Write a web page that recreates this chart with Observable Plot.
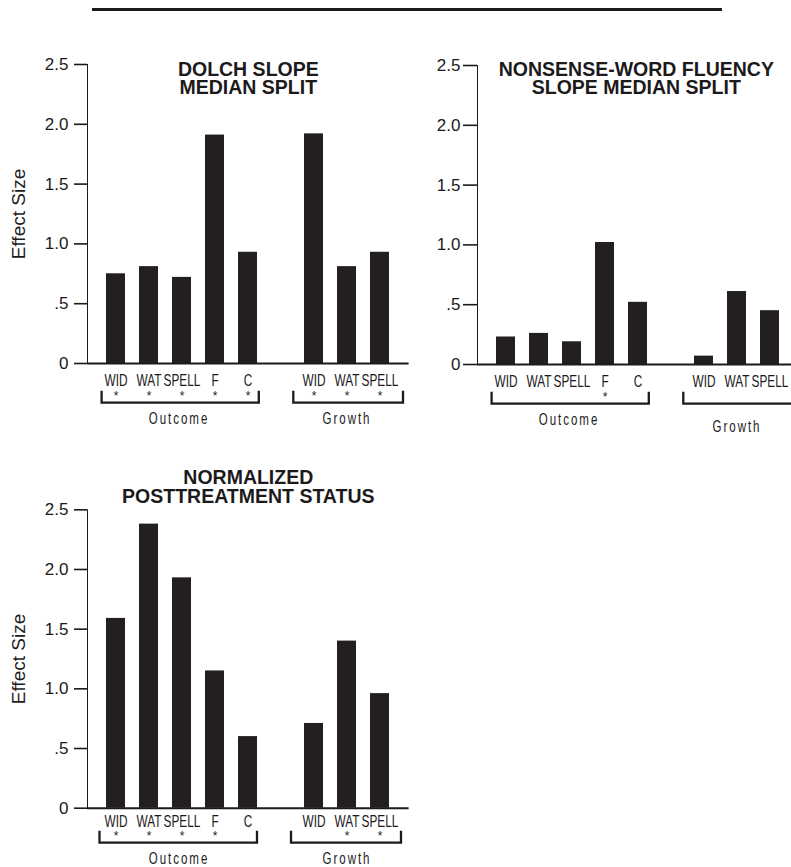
<!DOCTYPE html>
<html>
<head>
<meta charset="utf-8">
<script src="https://cdn.jsdelivr.net/npm/d3@7"></script>
<script src="https://cdn.jsdelivr.net/npm/@observablehq/plot@0.6"></script>
<style>
html,body{margin:0;padding:0;background:#fff;overflow:hidden;}
#page{position:relative;width:791px;height:867px;overflow:hidden;background:#fff;}
.panel{position:absolute;width:410px;}
.panel svg{max-width:none !important;}
#toprule{position:absolute;left:92px;top:8px;width:630px;height:3px;background:#1a1a1a;}
</style>
</head>
<body>
<div id="page"><div id="toprule"></div></div>
<script>
// ---- data ----
const outcomeCategories = ["WID", "WAT", "SPELL", "F", "C"];
const growthCategories = ["WID", "WAT", "SPELL"];
const groupNames = ["Outcome", "Growth"];
const yTickValues = [0, 0.5, 1, 1.5, 2, 2.5];
const yTickLabels = ["0", ".5", "1.0", "1.5", "2.0", "2.5"];
const yLabel = "Effect Size";

const dolchTitle = "DOLCH SLOPE\nMEDIAN SPLIT";
const dolchOutcome = [0.75, 0.81, 0.72, 1.91, 0.93];
const dolchGrowth = [1.92, 0.81, 0.93];
const dolchOutcomeSig = [true, true, true, true, true];
const dolchGrowthSig = [true, true, true];

const nwfTitle = "NONSENSE-WORD FLUENCY\nSLOPE MEDIAN SPLIT";
const nwfOutcome = [0.23, 0.26, 0.19, 1.02, 0.52];
const nwfGrowth = [0.07, 0.61, 0.45];
const nwfOutcomeSig = [false, false, false, true, false];
const nwfGrowthSig = [false, false, false];

const normTitle = "NORMALIZED\nPOSTTREATMENT STATUS";
const normOutcome = [1.59, 2.38, 1.93, 1.15, 0.60];
const normGrowth = [0.71, 1.40, 0.96];
const normOutcomeSig = [true, true, true, true, false];
const normGrowthSig = [false, true, true];

// ---- helpers ----
const INK = "#1c1a1b";
const BAR = "#231f20";
const SANS = "Liberation Sans, Arial, Helvetica, sans-serif";
const CONDENSE_CAT = 0.74;
const CONDENSE_GROUP = 0.7;

function rows(outVals, outSig, grVals, grSig) {
  return [
    ...outcomeCategories.map((c, i) => ({key: "O-" + c, label: c, group: "Outcome", value: outVals[i], sig: outSig[i]})),
    ...growthCategories.map((c, i) => ({key: "G-" + c, label: c, group: "Growth", value: grVals[i], sig: grSig[i]}))
  ];
}
const xDomain = [...outcomeCategories.map(c => "O-" + c), "gap", ...growthCategories.map(c => "G-" + c)];
const groupCenters = [{key: "O-SPELL", name: groupNames[0]}, {key: "G-WAT", name: groupNames[1]}];
const catTexts = new Set([...outcomeCategories, ...growthCategories]);

function brackets(data, o) {
  return (index, scales, values, dims) => {
    const g = d3.create("svg:g");
    const x = scales.x;
    const bw = x.bandwidth ? x.bandwidth() : 0;
    const y0 = dims.height - dims.marginBottom;
    groupNames.forEach((name, gi) => {
      const keys = data.filter(d => d.group === name).map(d => d.key);
      const x1 = x(keys[0]) - o.pad[gi][0];
      const x2 = x(keys[keys.length - 1]) + bw + o.pad[gi][1];
      const yb = y0 + o.bracket;
      g.append("path")
        .attr("d", `M${x1},${yb - o.tick}V${yb}H${x2}V${yb - o.tick}`)
        .attr("fill", "none").attr("stroke", INK).attr("stroke-width", 2.3);
    });
    return g.node();
  };
}

function panel(cfg) {
  const data = rows(cfg.outVals, cfg.outSig, cfg.grVals, cfg.grSig);
  const o = cfg.off;
  const marks = [
    Plot.barY(data, {x: "key", y: "value", fill: BAR}),
    Plot.ruleY([0], {stroke: INK, strokeWidth: 2}),
    Plot.text([cfg.title], {frameAnchor: "top", lineAnchor: "top", dy: cfg.titleDy, dx: cfg.titleDx,
      fontFamily: SANS, fontWeight: "bold", fontSize: 19.5, lineHeight: 0.95, fill: INK}),
    Plot.text(data, {x: "key", text: "label", frameAnchor: "bottom", lineAnchor: "middle", dy: o.label,
      fontFamily: SANS, fontSize: 16, fill: INK}),
    Plot.text(data.filter(d => d.sig), {x: "key", text: () => "*", frameAnchor: "bottom", lineAnchor: "middle",
      dy: o.star, fontFamily: SANS, fontSize: 12, fill: INK}),
    ...groupCenters.map((gc, i) => Plot.text([gc], {x: "key", text: "name", frameAnchor: "bottom", lineAnchor: "middle",
      dy: cfg.groupDy[i], dx: cfg.groupDx[i], fontFamily: SANS, fontSize: 16.5, fill: INK})),
    brackets(data, o)
  ];
  if (cfg.showYLabel) {
    marks.push(Plot.text([yLabel], {frameAnchor: "left", rotate: -90, dx: -69, textAnchor: "middle",
      fontFamily: SANS, fontSize: 19, fill: INK}));
  }
  const svg = Plot.plot({
    width: 410,
    height: cfg.height,
    marginLeft: 87,
    marginRight: 1.4,
    marginTop: cfg.marginTop,
    marginBottom: cfg.marginBottom,
    style: {fontFamily: SANS, fontSize: "17px", color: INK, background: "transparent", overflow: "visible", maxWidth: "none"},
    x: {domain: xDomain, paddingInner: 0.42, paddingOuter: 0.524, axis: null},
    y: {domain: [0, 2.5], ticks: yTickValues, tickFormat: d => yTickLabels[yTickValues.indexOf(d)],
        tickSize: cfg.tickSize, tickPadding: cfg.tickPadding, label: null, line: true},
    marks
  });
  // condensed look for category and group labels
  d3.select(svg).selectAll("text").each(function() {
    const s = this.textContent;
    const isCat = catTexts.has(s), isGroup = groupNames.includes(s);
    if (!isCat && !isGroup) return;
    const k = isCat ? CONDENSE_CAT : CONDENSE_GROUP;
    const t = d3.select(this);
    const x = +(t.attr("x") || 0);
    t.attr("transform", (t.attr("transform") || "") + ` translate(${x},0) scale(${k},1) translate(${-x},0)`);
    if (isGroup) t.attr("letter-spacing", "2.8px");
  });
  d3.select(svg).selectAll('g[aria-label="y-axis tick"]').attr("stroke-width", 1.6);
  d3.select(svg).selectAll('g[aria-label="frame"], g[aria-label="frame"] *').attr("stroke-width", 1.8);
  const div = document.createElement("div");
  div.className = "panel";
  div.style.left = cfg.left + "px";
  div.style.top = cfg.top + "px";
  div.appendChild(svg);
  document.getElementById("page").appendChild(div);
}

panel({
  outVals: dolchOutcome, outSig: dolchOutcomeSig, grVals: dolchGrowth, grSig: dolchGrowthSig,
  title: dolchTitle, titleDy: -2, titleDx: 0, showYLabel: true,
  left: 0, top: 0, height: 430, marginTop: 64, marginBottom: 67,
  tickSize: 13, tickPadding: 6,
  off: {label: 17, star: 33, bracket: 39.7, tick: 12, pad: [[4.4, 1.8], [10.7, 14]]},
  groupDy: [55, 55], groupDx: [-3, 0]
});
panel({
  outVals: nwfOutcome, outSig: nwfOutcomeSig, grVals: nwfGrowth, grSig: nwfGrowthSig,
  title: nwfTitle, titleDy: -3, titleDx: -2, showYLabel: false,
  left: 390, top: 0, height: 430, marginTop: 65, marginBottom: 66,
  tickSize: 14, tickPadding: 3,
  off: {label: 17, star: 33, bracket: 39.7, tick: 12, pad: [[4.4, 1.8], [10.7, 14]]},
  groupDy: [55, 62], groupDx: [-3, 0]
});
panel({
  outVals: normOutcome, outSig: normOutcomeSig, grVals: normGrowth, grSig: normGrowthSig,
  title: normTitle, titleDy: -38.6, titleDx: 0, showYLabel: true,
  left: 0, top: 440, height: 427, marginTop: 69.3, marginBottom: 59.3,
  tickSize: 13, tickPadding: 6,
  off: {label: 13.5, star: 28, bracket: 35, tick: 12, pad: [[6.5, 0], [13, 12]]},
  groupDy: [51, 51], groupDx: [-3, 0]
});
</script>
</body>
</html>
